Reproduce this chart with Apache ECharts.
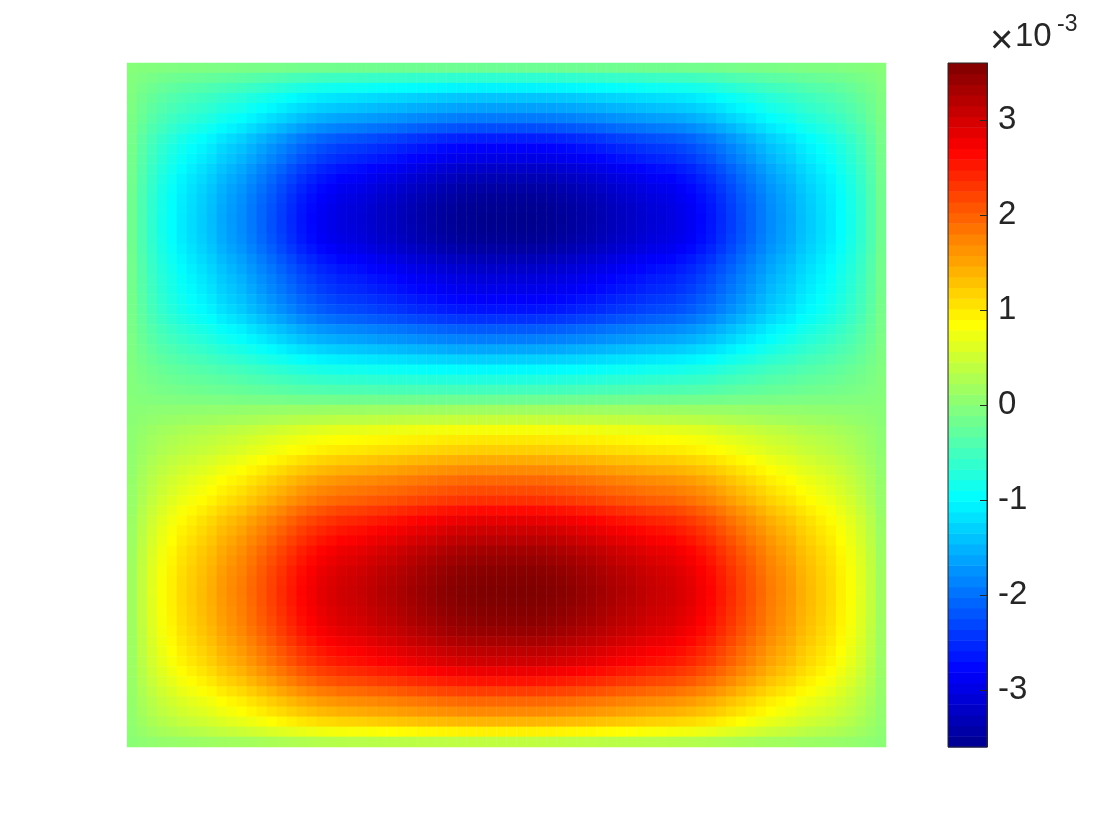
<!DOCTYPE html>
<html>
<head>
<meta charset="utf-8">
<script src="https://cdn.jsdelivr.net/npm/echarts@6/dist/echarts.min.js"></script>
<style>
  html, body { margin: 0; padding: 0; background: #fff; }
  #chart { width: 1120px; height: 840px; }
</style>
</head>
<body>
<div id="chart"></div>
<script>
// field values, x1e-3: value = xShape[i] * yAmp[j]
// normalized profile across the box (left -> right), read off the red/blue rows
const xShape = [
  0.05, 0.12, 0.18, 0.23, 0.27, 0.31, 0.34, 0.37, 0.40, 0.44,
  0.47, 0.50, 0.54, 0.58, 0.62, 0.66, 0.70, 0.74, 0.77, 0.80,
  0.82, 0.84, 0.85, 0.86, 0.875, 0.89, 0.90, 0.915, 0.93, 0.945,
  0.955, 0.97, 0.98, 0.99, 0.995, 1.0, 1.0, 1.0,
  1.0, 1.0, 1.0, 0.995, 0.99, 0.98, 0.97, 0.955,
  0.945, 0.93, 0.915, 0.90, 0.89, 0.875, 0.86, 0.85, 0.84, 0.82,
  0.80, 0.77, 0.74, 0.70, 0.66, 0.62, 0.58, 0.54, 0.50, 0.47,
  0.44, 0.40, 0.37, 0.34, 0.31, 0.27, 0.23, 0.18, 0.12, 0.05
];
// amplitude down the middle column (top -> bottom)
const yAmp = [
  -0.2, -0.65, -1.05, -1.4, -1.65, -1.93, -2.25, -2.6, -2.82, -2.98,
  -3.18, -3.33, -3.45, -3.53, -3.58, -3.6, -3.59, -3.55, -3.45, -3.3,
  -3.17, -3.05, -2.95, -2.82, -2.68, -2.45, -2.15, -1.9, -1.6, -1.3,
  -1.0, -0.75, -0.5, -0.2, 0.17, 0.45, 0.8, 1.02, 1.2, 1.45,
  1.7, 1.95, 2.15, 2.35, 2.62, 2.85, 3.03, 3.18, 3.33, 3.43,
  3.52, 3.57, 3.6, 3.59, 3.55, 3.5, 3.42, 3.3, 3.15, 3.02,
  2.8, 2.55, 2.25, 1.95, 1.7, 1.38, 0.95, 0.4
];
const cbMin = -3.6;
const cbMax = 3.6;
const cbTicks = [-3, -2, -1, 0, 1, 2, 3];
const nLevels = 64;

// matlab jet(m)
function jet(m) {
  const n = Math.ceil(m / 4);
  const u = [];
  for (let i = 1; i <= n; i++) u.push(i / n);
  for (let i = 0; i < n - 1; i++) u.push(1);
  for (let i = n; i >= 1; i--) u.push(i / n);
  const off = Math.ceil(n / 2) - (m % 4 === 1 ? 1 : 0);
  const r = new Array(m).fill(0), g = new Array(m).fill(0), b = new Array(m).fill(0);
  u.forEach((v, j) => {
    const gi = off + j, ri = gi + n, bi = gi - n;
    if (gi >= 0 && gi < m) g[gi] = v;
    if (ri >= 0 && ri < m) r[ri] = v;
    if (bi >= 0 && bi < m) b[bi] = v;
  });
  const hex = (v) => Math.round(v * 255).toString(16).padStart(2, "0");
  return r.map((_, i) => "#" + hex(r[i]) + hex(g[i]) + hex(b[i]));
}

const heatData = [];
yAmp.forEach((a, j) => {
  xShape.forEach((s, i) => {
    heatData.push([i, j, +(s * a).toFixed(4)]);
  });
});

const step = (cbMax - cbMin) / nLevels;
const bands = [];
for (let k = 0; k < nLevels; k++) {
  const lo = cbMin + k * step;
  bands.push([lo, lo + step, lo + step / 2]);
}

const myChart = echarts.init(document.getElementById("chart"));
const txt = "#262626";
const font = "Liberation Sans, Arial, Helvetica, sans-serif";

myChart.setOption({
  animation: false,
  backgroundColor: "#fff",
  grid: [
    { left: 127, top: 63, width: 759, height: 684 },
    {
      left: 948, top: 63, width: 39, height: 684,
      show: true, z: 10, backgroundColor: "transparent",
      borderColor: txt, borderWidth: 1,
    },
  ],
  xAxis: [
    { type: "category", gridIndex: 0, data: xShape.map((_, i) => i), show: false },
    { type: "value", gridIndex: 1, min: 0, max: 1, show: false },
  ],
  yAxis: [
    { type: "category", gridIndex: 0, data: yAmp.map((_, i) => i), inverse: true, show: false },
    {
      type: "value", gridIndex: 1, min: cbMin, max: cbMax, position: "right",
      z: 20,
      axisLine: { show: true, onZero: false, lineStyle: { color: txt, width: 1 } },
      splitLine: { show: false },
      axisTick: {
        show: true, inside: true, length: 7,
        customValues: cbTicks,
        lineStyle: { color: txt, width: 1 },
      },
      axisLabel: {
        customValues: cbTicks,
        margin: 11,
        fontSize: 33,
        fontFamily: font,
        color: txt,
      },
    },
  ],
  visualMap: {
    type: "continuous",
    show: false,
    min: cbMin,
    max: cbMax,
    dimension: 2,
    seriesIndex: [0, 1],
    inRange: { color: jet(nLevels) },
  },
  series: [
    {
      type: "heatmap",
      xAxisIndex: 0,
      yAxisIndex: 0,
      data: heatData,
      progressive: 0,
      emphasis: { disabled: true },
    },
    {
      type: "custom",
      xAxisIndex: 1,
      yAxisIndex: 1,
      data: bands,
      encode: { y: [0, 1] },
      renderItem: (params, api) => {
        const p0 = api.coord([0, api.value(0)]);
        const p1 = api.coord([1, api.value(1)]);
        return {
          type: "rect",
          shape: { x: p0[0], y: p1[1], width: p1[0] - p0[0], height: p0[1] - p1[1] + 0.5 },
          style: { fill: api.visual("color") },
        };
      },
    },
  ],
  graphic: [
    { type: "text", style: { text: "×", x: 990, y: 42, fontSize: 40, fontFamily: font, fill: txt, verticalAlign: "middle" } },
    { type: "text", style: { text: "10", x: 1015, y: 37, fontSize: 33, fontFamily: font, fill: txt, verticalAlign: "middle" } },
    { type: "text", style: { text: "-3", x: 1057, y: 25, fontSize: 23, fontFamily: font, fill: txt, verticalAlign: "middle" } },
  ],
});
</script>
</body>
</html>
